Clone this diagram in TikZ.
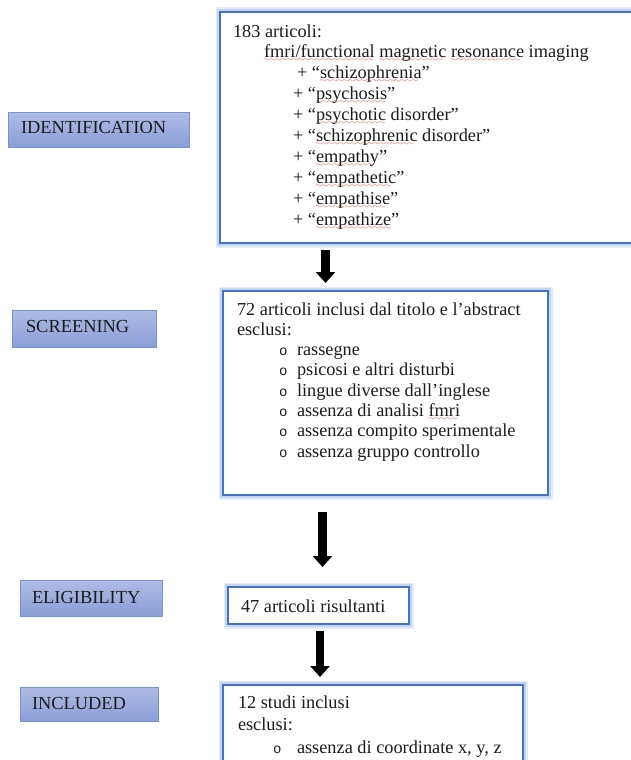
\documentclass[tikz,border=0pt]{standalone}
\usepackage{fontspec}
\setmainfont{Liberation Serif}
\newfontfamily\monofont{Liberation Mono}
\usetikzlibrary{arrows.meta}
\definecolor{ink}{RGB}{28,28,28}
\definecolor{boxblue}{RGB}{68,114,196}
\definecolor{glowA}{RGB}{228,236,250}
\definecolor{glowB}{RGB}{196,213,243}
\definecolor{labtop}{RGB}{174,188,229}
\definecolor{labbot}{RGB}{138,158,215}
\definecolor{labborder}{RGB}{118,146,212}
\definecolor{spellred}{RGB}{228,40,40}
\font\spwavefont=lasy6 scaled 1150
\newsavebox\spbox
\newcommand\sperr[1]{\sbox\spbox{#1}\rlap{\textcolor{spellred}{\lower4pt\hbox to\wd\spbox{\leaders\hbox{\spwavefont\char58}\hfill}}}\usebox\spbox}
\newcommand\bul{{\monofont\fontsize{14}{14}\selectfont o}}
\newcommand\itm[1]{\hspace*{42pt}\makebox[18pt][l]{\bul}#1}
\begin{document}
\begin{tikzpicture}[x=1pt,y=-1pt,
  txt/.style={inner sep=0pt, outer sep=0pt, text=ink, align=left, anchor=north west},
  mainbox/.style={draw=boxblue, line width=2.2pt, fill=white, inner sep=0pt, outer sep=0pt, anchor=north west,
    preaction={draw=glowA, line width=9pt},
    preaction={draw=glowB, line width=5.5pt}},
  phase/.style={draw=labborder, line width=0.8pt, top color=labtop, bottom color=labbot, inner sep=0pt, outer sep=0pt, anchor=north west},
  phasetxt/.style={inner sep=0pt, outer sep=0pt, anchor=base west, text=ink, font=\fontsize{18.4}{21}\selectfont},
  blockarrow/.style={line width=8.5pt, draw=black, -{Triangle[width=19pt,length=11pt]}}
]
\useasboundingbox (0,0) rectangle (631,760);

% phase labels
\node[phase, minimum width=181pt, minimum height=35pt] (l1) at (8,112) {};
\node[phase, minimum width=144pt, minimum height=37pt] (l2) at (12,310) {};
\node[phase, minimum width=142pt, minimum height=36pt] (l3) at (20,580) {};
\node[phase, minimum width=138pt, minimum height=34pt] (l4) at (20,687) {};
\node[phasetxt] (l1t) at (21,133) {IDENTIFICATION};
\node[phasetxt] (l2t) at (26,332) {SCREENING};
\node[phasetxt] (l3t) at (32,603) {ELIGIBILITY};
\node[phasetxt] (l4t) at (32,709) {INCLUDED};

% main boxes
\node[mainbox, minimum width=425pt, minimum height=231pt] (b1) at (220,12) {};
\node[mainbox, minimum width=325pt, minimum height=204pt] (b2) at (223,291) {};
\node[mainbox, minimum width=181pt, minimum height=37pt] (b3) at (228,587) {};
\node[mainbox, minimum width=300pt, minimum height=120pt] (b4) at (223,685) {};

% texts
\node[txt, font=\fontsize{18.3}{20.9}\selectfont] (t1) at (233,22.37) {\strut 183 articoli:\\
\hspace*{31pt}\sperr{fmri/functional} \sperr{magnetic} \sperr{resonance} imaging\\
\hspace*{64pt}+ “\sperr{schizophrenia}”\\
\hspace*{60pt}+ “\sperr{psychosis}”\\
\hspace*{60pt}+ “\sperr{psychotic} disorder”\\
\hspace*{60pt}+ “\sperr{schizophrenic} disorder”\\
\hspace*{60pt}+ “\sperr{empathy}”\\
\hspace*{60pt}+ “\sperr{empathetic}”\\
\hspace*{60pt}+ “\sperr{empathise}”\\
\hspace*{60pt}+ “\sperr{empathize}”};

\node[txt, font=\fontsize{18.3}{20.3}\selectfont] (t2) at (237,300.79) {\strut 72 articoli inclusi dal titolo e l’abstract\\
esclusi:\\
\itm{rassegne}\\
\itm{psicosi e altri disturbi}\\
\itm{lingue diverse dall’inglese}\\
\itm{assenza di analisi \sperr{fmri}}\\
\itm{assenza compito sperimentale}\\
\itm{assenza gruppo controllo}};

\node[phasetxt, font=\fontsize{18.3}{21}\selectfont] (t3) at (241,612) {47 articoli risultanti};

\node[txt, font=\fontsize{18.3}{22.5}\selectfont] (t4) at (238,692.25) {\strut 12 studi inclusi\\
esclusi:\\
\hspace*{35pt}\makebox[24pt][l]{\bul}assenza di coordinate x, y, z};

% arrows
\coordinate (a1) at (325.5,0);
\coordinate (a2) at (322.5,0);
\coordinate (a3) at (320,0);
\draw[blockarrow, shorten <=7pt, shorten >=8pt] (b1.south -| a1) -- (b2.north -| a1);
\draw[blockarrow, shorten <=17pt, shorten >=20pt] (b2.south -| a2) -- (b3.north -| a2);
\draw[blockarrow, shorten <=7pt, shorten >=8pt] (b3.south -| a3) -- (b4.north -| a3);
\end{tikzpicture}
\end{document}
